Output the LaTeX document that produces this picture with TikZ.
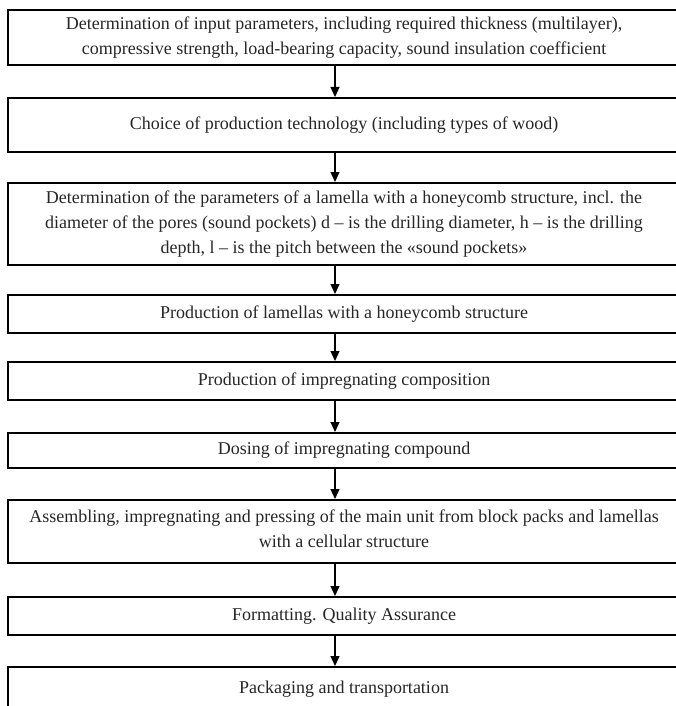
\documentclass[tikz,border=0pt]{standalone}
\usepackage{fontspec}
\setmainfont{Liberation Serif}
\usetikzlibrary{arrows.meta}
\begin{document}
\begin{tikzpicture}[x=1pt,y=-1pt,
  stepbox/.style={draw=black, line width=2pt, minimum width=672pt, inner sep=0pt, align=center,
     font=\fontsize{18}{25}\selectfont, text=black!85},
  arr/.style={line width=1.2pt, -{Triangle[length=10pt,width=9pt]}}]
\useasboundingbox (0,0) rectangle (676,706);
\clip (0,0) rectangle (676,706);
\coordinate (ax) at (335,0);
\node[stepbox, minimum height=55pt] (b1) at (344,37.5) {Determination of input parameters, including required thickness (multilayer),\\compressive strength, load-bearing capacity, sound insulation coefficient};
\node[stepbox, minimum height=54pt] (b2) at (344,125) {Choice of production technology (including types of wood)};
\node[stepbox, minimum height=82pt] (b3) at (344,224) {Determination of the parameters of a lamella with a honeycomb structure, incl. the\\diameter of the pores (sound pockets) d -- is the drilling diameter, h -- is the drilling\\depth, l -- is the pitch between the «sound pockets»};
\node[stepbox, minimum height=38pt] (b4) at (344,314) {Production of lamellas with a honeycomb structure};
\node[stepbox, minimum height=38pt] (b5) at (344,381) {Production of impregnating composition};
\node[stepbox, minimum height=35pt] (b6) at (344,450.5) {Dosing of impregnating compound};
\node[stepbox, minimum height=63pt] (b7) at (344,531.5) {Assembling, impregnating and pressing of the main unit from block packs and lamellas\\with a cellular structure\rule[-6pt]{0pt}{1pt}};
\node[stepbox, minimum height=38pt] (b8) at (344,616) {Formatting. Quality Assurance};
\node[stepbox, minimum height=44pt] (b9) at (344,689) {Packaging and transportation};
\foreach \a/\b in {b1/b2,b2/b3,b3/b4,b4/b5,b5/b6,b6/b7,b7/b8,b8/b9}
  \draw[arr] (\a.south -| ax) -- (\b.north -| ax);
\end{tikzpicture}
\end{document}
